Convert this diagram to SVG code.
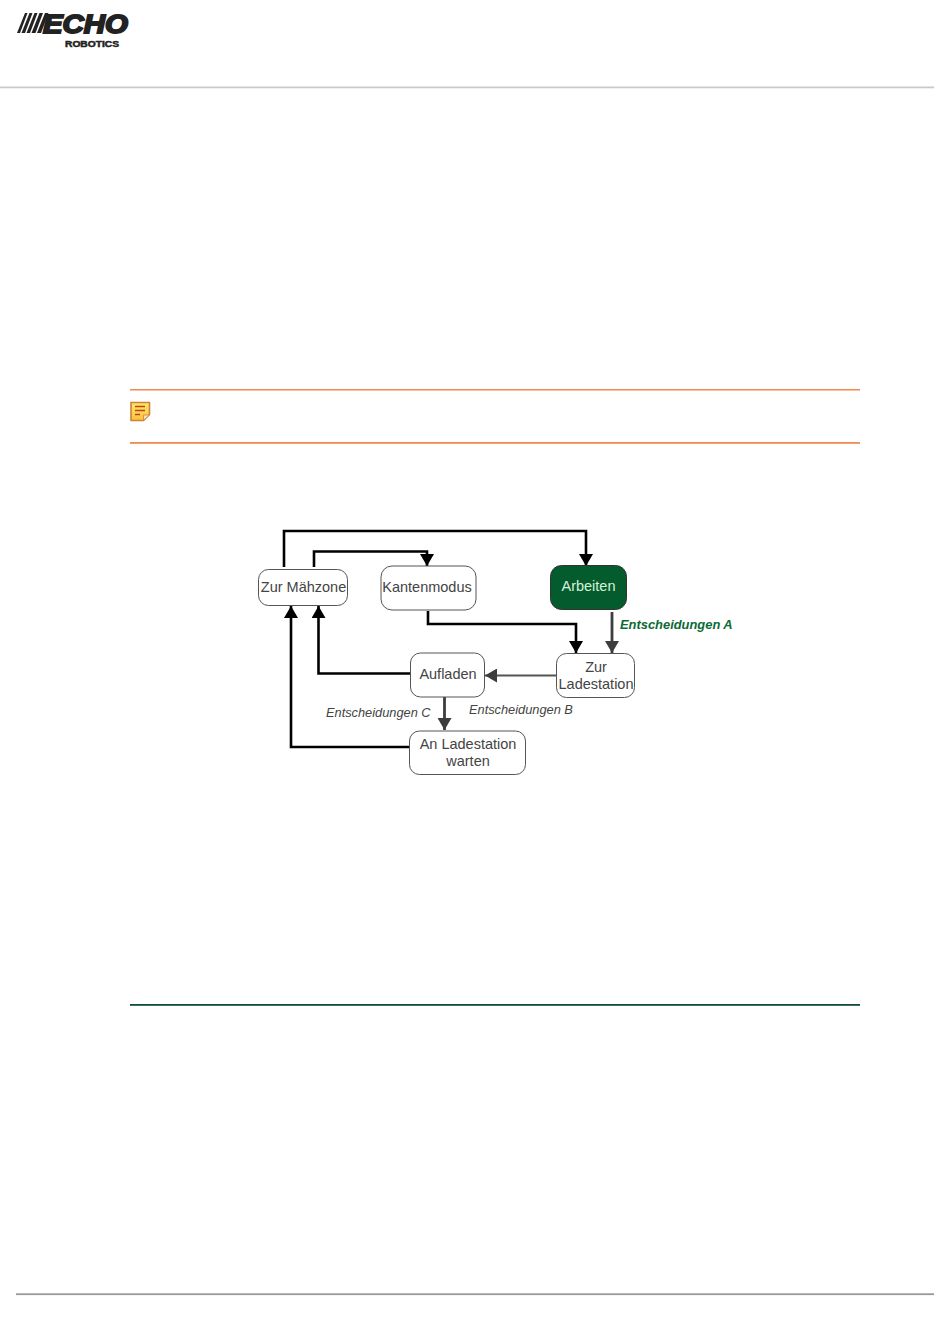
<svg xmlns="http://www.w3.org/2000/svg" width="950" height="1344" viewBox="0 0 950 1344">
<style>
text{font-family:"Liberation Sans",Arial,sans-serif}
.n{fill:#fff;stroke:#555;stroke-width:1}
.t{font-size:14.5px;fill:#444;text-anchor:middle}
.c{fill:none;stroke:#000;stroke-width:2.6}
.g{fill:none;stroke:#3d3d3d;stroke-width:2.8}
.l{font-size:12.8px;font-style:italic;fill:#444}
</style>
<defs>
<marker id="a" markerUnits="userSpaceOnUse" markerWidth="13" markerHeight="14" refX="12" refY="7" orient="auto"><path d="M0 0L12 7L0 14Z" fill="#000"/></marker>
<marker id="b" markerUnits="userSpaceOnUse" markerWidth="13" markerHeight="14" refX="12" refY="7" orient="auto"><path d="M0 0L12 7L0 14Z" fill="#3d3d3d"/></marker>
<linearGradient id="ng" x1="0" y1="0" x2="0" y2="1"><stop offset="0" stop-color="#ffe66a"/><stop offset="1" stop-color="#fcc23c"/></linearGradient>
</defs>
<rect width="950" height="1344" fill="#fff"/>
<g id="header">
<g id="logo">
<g fill="#222">
<path d="M17 33L25 13H27.500L20 33Z"/><path d="M21.500 33L29.500 13H32.500L25 33Z"/><path d="M26.500 33L34.500 13H37.500L30 33Z"/><path d="M31.500 33L39.500 13H43L35.500 33Z"/><path d="M37 33L45 13H48.500L41 33Z"/>
</g>
<text x="43" y="33" font-size="25" font-weight="700" font-style="italic" fill="#222" textLength="85" lengthAdjust="spacingAndGlyphs" style="stroke:#222;stroke-width:1.800px">ECHO</text>
<text x="65" y="46.500" font-size="9" font-weight="700" fill="#222" textLength="54" lengthAdjust="spacingAndGlyphs" style="stroke:#222;stroke-width:.5px">ROBOTICS</text>
</g>
<rect x="0" y="86.500" width="934" height="1.800" fill="#c9c9c9"/>
</g>
<g id="note">
<rect x="130" y="389" width="730" height="1.500" fill="#f08a50"/>
<rect x="130" y="442" width="730" height="1.800" fill="#f08a50"/>
<path d="M131 402.500H149.500V414.500L143.500 420.500H131Z" fill="url(#ng)" stroke="#cc8437" stroke-width="1.600"/>
<path d="M143.500 420.500V415H149.500Z" fill="#f6e3b4" stroke="#cc8437" stroke-width=".8"/>
<path d="M135 406.500H145M135 410.500H145M135 414.500H140" stroke="#b5481f" stroke-width="1.300" fill="none"/>
</g>
<g id="connectors">
<path class="c" d="M284 567V531H586V566" marker-end="url(#a)"/>
<path class="c" d="M314 567V551.500H427V566" marker-end="url(#a)"/>
<path class="c" d="M428 611V624H576V653" marker-end="url(#a)"/>
<path class="g" d="M612 612V653" marker-end="url(#b)"/>
<path class="c" d="M410 673.500H318.500V606" marker-end="url(#a)"/>
<path d="M556 675.500H485" fill="none" stroke="#555" stroke-width="1.800" marker-end="url(#b)"/>
<path class="g" d="M444.500 696V730" marker-end="url(#b)"/>
<path class="c" d="M409 747H291V606" marker-end="url(#a)"/>
</g>
<g id="n-maehzone"><rect class="n" x="258.500" y="569.500" width="89" height="36" rx="10"/><text class="t" x="303.500" y="592">Zur Mähzone</text></g>
<g id="n-kanten"><rect class="n" x="381" y="566" width="95" height="44" rx="11"/><text class="t" x="427" y="592">Kantenmodus</text></g>
<g id="n-arbeiten"><rect x="550.500" y="565.500" width="76" height="44" rx="11" fill="#045c2e" stroke="#333" stroke-width="1"/><text class="t" x="588.500" y="591" style="fill:#d5f2d8">Arbeiten</text></g>
<g id="n-ladestation"><rect class="n" x="556.500" y="653.500" width="78" height="44" rx="10"/><text class="t" x="596" y="672">Zur</text><text class="t" x="596" y="689">Ladestation</text></g>
<g id="n-aufladen"><rect class="n" x="410.500" y="653" width="74" height="44" rx="10"/><text class="t" x="448" y="679">Aufladen</text></g>
<g id="n-warten"><rect class="n" x="409.500" y="731" width="116" height="43.500" rx="10"/><text class="t" x="468" y="749">An Ladestation</text><text class="t" x="468" y="766">warten</text></g>
<g id="labels">
<text x="620" y="629" font-size="12.900" font-weight="700" font-style="italic" fill="#0b6a35">Entscheidungen A</text>
<text class="l" x="469" y="714">Entscheidungen B</text>
<text class="l" x="326" y="717">Entscheidungen C</text>
</g>
<g id="footer">
<rect x="130" y="1004" width="730" height="1.800" fill="#0f4d38"/>
<rect x="16" y="1293.300" width="918" height="1.800" fill="#999"/>
</g>
</svg>
